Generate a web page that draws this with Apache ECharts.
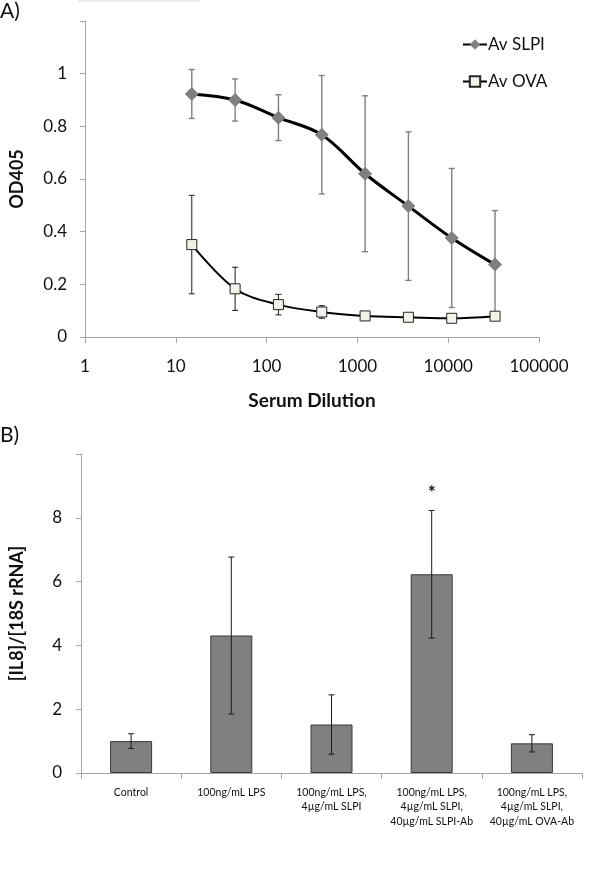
<!DOCTYPE html>
<html>
<head>
<meta charset="utf-8">
<script src="https://cdn.jsdelivr.net/npm/echarts@6/dist/echarts.min.js"></script>
<style>html,body{margin:0;padding:0;background:#fff}#c{width:600px;height:870px}</style>
</head>
<body>
<div id="c"></div>
<script>
// ---- Panel A data ----
const dilutions = [15, 45, 135, 405, 1215, 3645, 10935, 32805];
const slpiMean = [0.923, 0.900, 0.833, 0.768, 0.620, 0.497, 0.376, 0.275];
const slpiErr  = [0.093, 0.080, 0.087, 0.225, 0.296, 0.282, 0.264, 0.205];
const ovaMean  = [0.351, 0.183, 0.123, 0.095, 0.080, 0.075, 0.071, 0.079];
const ovaErr   = [0.187, 0.082, 0.039, 0.024, 0.010, 0.008, 0.008, 0.008];
const xTickLabelsA = ['1', '10', '100', '1000', '10000', '100000'];
const yTickLabelsA = ['0', '0.2', '0.4', '0.6', '0.8', '1'];

// ---- Panel B data ----
const treatments = [
  'Control',
  '100ng/mL LPS',
  '100ng/mL LPS,\n4µg/mL SLPI',
  '100ng/mL LPS,\n4µg/mL SLPI,\n40µg/mL SLPI-Ab',
  '100ng/mL LPS,\n4µg/mL SLPI,\n40µg/mL OVA-Ab'
];
const il8Mean = [1.00, 4.31, 1.52, 6.23, 0.93];
const il8Err  = [0.23, 2.46, 0.93, 2.00, 0.27];
const significance = ['', '', '', '*', ''];
const yTickLabelsB = ['0', '2', '4', '6', '8'];

const FONT = 'Lato';
const TXT = '#111';
const AXIS = '#a6a6a6';

function errItem(color, width, cap, marks) {
  return function (params, api) {
    const x = api.value(0), y = api.value(1), e = api.value(2);
    const top = api.coord([x, y + e]);
    const bot = api.coord([x, Math.max(y - e, 0)]);
    const st = { stroke: color, lineWidth: width };
    const children = [
      { type: 'line', shape: { x1: top[0], y1: top[1], x2: bot[0], y2: bot[1] }, style: st },
      { type: 'line', shape: { x1: top[0] - cap, y1: top[1], x2: top[0] + cap, y2: top[1] }, style: st },
      { type: 'line', shape: { x1: bot[0] - cap, y1: bot[1], x2: bot[0] + cap, y2: bot[1] }, style: st }
    ];
    if (marks && marks[params.dataIndex]) {
      children.push({
        type: 'text',
        style: {
          text: marks[params.dataIndex], x: top[0], y: top[1] - 18,
          align: 'center', verticalAlign: 'middle',
          font: 'bold 19px ' + FONT, fill: TXT
        }
      });
    }
    return { type: 'group', children: children };
  };
}

const chart = echarts.init(document.getElementById('c'), null, { renderer: 'canvas' });

const option = {
  backgroundColor: '#fff',
  animation: false,
  textStyle: { fontFamily: FONT, color: TXT },
  title: [
    { text: 'A)', left: 0, top: 1, padding: 0, textStyle: { fontFamily: FONT, fontSize: 21, fontWeight: 'normal', color: TXT } },
    { text: 'B)', left: 0, top: 425, padding: 0, textStyle: { fontFamily: FONT, fontSize: 21, fontWeight: 'normal', color: TXT } }
  ],
  graphic: [
    { type: 'line', shape: { x1: 78, y1: 1, x2: 199, y2: 1 }, style: { stroke: '#e4e4e4', lineWidth: 1.5 }, silent: true }
  ],
  legend: {
    orient: 'vertical',
    left: 462,
    top: 36,
    padding: 0,
    itemGap: 20,
    itemWidth: 24,
    itemHeight: 13,
    textStyle: { fontFamily: FONT, fontSize: 17, color: TXT, padding: [0, 0, 0, -4] },
    data: ['Av SLPI', 'Av OVA']
  },
  grid: [
    { left: 72, top: 21, width: 467, height: 316 },
    { left: 69, top: 454, width: 513, height: 319 }
  ],
  xAxis: [
    {
      gridIndex: 0, type: 'log', logBase: 10, min: 1, max: 100000,
      name: 'Serum Dilution', nameLocation: 'middle', nameGap: 54,
      nameTextStyle: { fontFamily: FONT, fontSize: 19, fontWeight: 'bold', color: TXT },
      axisLine: { lineStyle: { color: AXIS, width: 1 } },
      axisTick: { show: true, inside: false, length: 6, lineStyle: { color: AXIS } },
      minorTick: { show: false },
      splitLine: { show: false },
      axisLabel: {
        margin: 21, fontFamily: FONT, fontSize: 17, color: TXT,
        formatter: function (v) {
          const i = Math.round(Math.log10(v));
          return xTickLabelsA[i] !== undefined ? xTickLabelsA[i] : '';
        }
      }
    },
    {
      gridIndex: 1, type: 'category', data: treatments,
      axisLine: { lineStyle: { color: AXIS, width: 1 } },
      axisTick: { show: true, inside: false, length: 6, lineStyle: { color: AXIS } },
      axisLabel: { margin: 12, interval: 0, fontFamily: FONT, fontSize: 10.5, lineHeight: 14.5, color: TXT }
    }
  ],
  yAxis: [
    {
      gridIndex: 0, type: 'value', min: 0, max: 1.2, interval: 0.2,
      name: 'OD405', nameLocation: 'middle', nameGap: 59, nameRotate: 90,
      nameTextStyle: { fontFamily: FONT, fontSize: 18, fontWeight: 'bold', color: TXT },
      axisLine: { show: true, lineStyle: { color: AXIS, width: 1 } },
      axisTick: { show: true, inside: false, length: 5, lineStyle: { color: AXIS } },
      splitLine: { show: false },
      axisLabel: {
        margin: 18, fontFamily: FONT, fontSize: 17, color: TXT,
        formatter: function (v) {
          const i = Math.round(v / 0.2);
          return yTickLabelsA[i] !== undefined ? yTickLabelsA[i] : '';
        }
      }
    },
    {
      gridIndex: 1, type: 'value', min: 0, max: 10, interval: 2,
      name: '[IL8]/[18S rRNA]', nameLocation: 'middle', nameGap: 55, nameRotate: 90,
      nameTextStyle: { fontFamily: FONT, fontSize: 18, fontWeight: 'bold', color: TXT },
      axisLine: { show: true, lineStyle: { color: AXIS, width: 1 } },
      axisTick: { show: true, inside: false, length: 5, lineStyle: { color: AXIS } },
      splitLine: { show: false },
      axisLabel: {
        margin: 19, fontFamily: FONT, fontSize: 17, color: TXT,
        formatter: function (v) {
          const i = Math.round(v / 2);
          return yTickLabelsB[i] !== undefined ? yTickLabelsB[i] : '';
        }
      }
    }
  ],
  series: [
    {
      name: 'SLPI err', type: 'custom', xAxisIndex: 0, yAxisIndex: 0, z: 1,
      renderItem: errItem('#7f7f7f', 1.4, 3),
      data: dilutions.map((d, i) => [d, slpiMean[i], slpiErr[i]])
    },
    {
      name: 'OVA err', type: 'custom', xAxisIndex: 0, yAxisIndex: 0, z: 1,
      renderItem: errItem('#1a1a1a', 1, 3),
      data: dilutions.map((d, i) => [d, ovaMean[i], ovaErr[i]])
    },
    {
      name: 'Av SLPI', type: 'line', xAxisIndex: 0, yAxisIndex: 0, z: 3,
      smooth: 0.35,
      symbol: 'diamond', symbolSize: [14, 14],
      lineStyle: { color: '#000', width: 3 },
      itemStyle: { color: '#808080', borderColor: '#808080', borderWidth: 0 },
      data: dilutions.map((d, i) => [d, slpiMean[i]])
    },
    {
      name: 'Av OVA', type: 'line', xAxisIndex: 0, yAxisIndex: 0, z: 4,
      smooth: 0.35,
      symbol: 'rect', symbolSize: 10,
      lineStyle: { color: '#000', width: 2 },
      itemStyle: { color: '#f2f2e6', borderColor: '#262626', borderWidth: 1 },
      data: dilutions.map((d, i) => [d, ovaMean[i]])
    },
    {
      name: 'IL8', type: 'bar', xAxisIndex: 1, yAxisIndex: 1, z: 2,
      barWidth: 42,
      itemStyle: { color: '#808080', borderColor: '#3a3a3a', borderWidth: 1 },
      data: il8Mean
    },
    {
      name: 'IL8 err', type: 'custom', xAxisIndex: 1, yAxisIndex: 1, z: 3,
      renderItem: errItem('#1a1a1a', 1, 3, significance),
      data: il8Mean.map((m, i) => [i, m, il8Err[i]])
    }
  ]
};
chart.setOption(option);
</script>
</body>
</html>
